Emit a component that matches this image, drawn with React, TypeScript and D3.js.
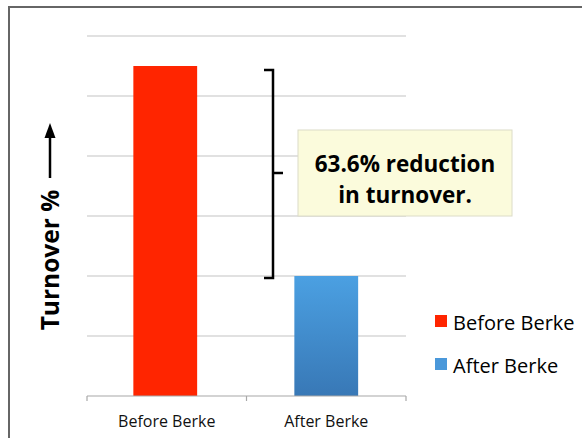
import React from "react";
import * as d3 from "d3";

// values (arbitrary units, 0..6 scale)
const categories = ["Before Berke", "After Berke"];
const turnover = [5.5, 2];
const barColors = ["#ff2500", "url(#blueGrad)"];
const legendColors = ["#ff2500", "#4a98da"];
const yTicks = [0, 1, 2, 3, 4, 5, 6];
const noteLines = ["63.6% reduction", "in turnover."];

const W = 582;
const H = 438;
const FONT = "'Open Sans', sans-serif";

export default function App() {
  const x = d3.scaleBand().domain(categories).range([87, 406]).padding(0);
  const y = d3.scaleLinear().domain([0, 6]).range([396, 36]);
  const barW = x.bandwidth() * 0.4;

  const top = y(turnover[0]);
  const bottom = y(turnover[1]);
  const bx = 273;

  return (
    <div style={{ position: "absolute", left: 0, top: 0 }}>
      <svg width={W} height={H} style={{ display: "block", background: "#fff" }}>
        <defs>
          <linearGradient id="blueGrad" x1="0" x2="0" y1="0" y2="1">
            <stop offset="0%" stopColor="#4ba0e2" />
            <stop offset="100%" stopColor="#3878b6" />
          </linearGradient>
        </defs>

        {/* chart frame */}
        <rect x={9} y={7} width={700} height={600} fill="none" stroke="#666" strokeWidth={2} />

        {/* gridlines */}
        {yTicks.filter((t) => t > 0).map((t) => (
          <line key={t} x1={87} x2={406} y1={y(t)} y2={y(t)} stroke="#c4c4c4" strokeWidth={1.2} />
        ))}

        {/* bars */}
        {categories.map((c, i) => (
          <rect
            key={c}
            x={(x(c) as number) + x.bandwidth() / 2 - barW / 2 - (i === 0 ? 1.5 : 0)}
            y={y(turnover[i])}
            width={barW}
            height={y(0) - y(turnover[i])}
            fill={barColors[i]}
          />
        ))}

        {/* x axis */}
        <line x1={87} x2={406} y1={y(0)} y2={y(0)} stroke="#a8a8a8" strokeWidth={1.2} />
        {[...categories.map((c) => x(c) as number), 406].map((tx, i) => (
          <line key={i} x1={tx} x2={tx} y1={y(0)} y2={y(0) + 5} stroke="#a8a8a8" strokeWidth={1.2} />
        ))}
        {categories.map((c) => (
          <text
            key={c}
            x={(x(c) as number) + x.bandwidth() / 2}
            y={427}
            textAnchor="middle"
            fontFamily={FONT}
            fontSize={16}
            fill="#111"
          >
            {c}
          </text>
        ))}

        {/* y axis title with arrow */}
        <text
          transform="translate(59,260) rotate(-90)"
          textAnchor="middle"
          fontFamily={FONT}
          fontWeight="bold"
          fontSize={24.5}
          fill="#000"
        >
          Turnover %
        </text>
        <line x1={50} x2={50} y1={178} y2={132} stroke="#000" strokeWidth={2.5} />
        <path d="M50,123 L44.5,138 L55.5,138 Z" fill="#000" />

        {/* bracket */}
        <path
          d={`M${bx - 9},${top + 4} H${bx} V${bottom + 2} H${bx - 9} M${bx},173 H${bx + 10}`}
          fill="none"
          stroke="#000"
          strokeWidth={2.5}
        />

        {/* note box */}
        <rect x={298} y={130} width={214} height={86} fill="#fbfbdc" stroke="#dcdcc8" strokeWidth={1} />
        {noteLines.map((l, i) => (
          <text
            key={l}
            x={405}
            y={172 + i * 31}
            textAnchor="middle"
            fontFamily={FONT}
            fontWeight="bold"
            fontSize={22.5}
            fill="#000"
          >
            {l}
          </text>
        ))}

        {/* legend */}
        {categories.map((c, i) => (
          <g key={c} transform={`translate(435,${315 + i * 43})`}>
            <rect width={12} height={12} fill={legendColors[i]} />
            <text x={18} y={15} fontFamily={FONT} fontSize={20} fill="#000">
              {c}
            </text>
          </g>
        ))}
      </svg>
    </div>
  );
}
